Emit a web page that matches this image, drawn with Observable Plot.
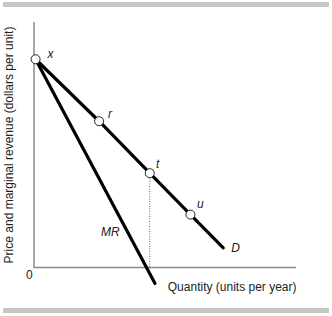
<!DOCTYPE html>
<html><head><meta charset="utf-8">
<script src="https://cdn.jsdelivr.net/npm/d3@7"></script>
<script src="https://cdn.jsdelivr.net/npm/@observablehq/plot@0.6"></script>
<style>
body{margin:0;background:#fff;}
#wrap{position:relative;width:332px;height:316px;overflow:hidden;}
.bar{position:absolute;left:3px;width:326px;height:5px;background:#c6c6c6;}
#wrap svg{position:absolute;left:0;top:0;}
</style></head><body>
<div id="wrap"><div class="bar" style="top:2px"></div><div class="bar" style="top:308px"></div></div>
<script>
// Demand curve points (quantity, price)
const pointNames = ["x", "r", "t", "u"];
const pointQ = [0.06, 2.48, 4.41, 5.96];
const pointP = [8.5, 5.97, 3.85, 2.16];
const demandEndQ = 7.21;
const demandEndP = 0.80;
// Marginal revenue line
const mrQ = [0.06, 4.61];
const mrP = [8.5, -0.65];
// Curve labels
const curveLabels = ["D", "MR"];
const curveLabelQ = [7.68, 2.91];
const curveLabelP = [0.80, 1.43];
const axisTitleY = "Price and marginal revenue (dollars per unit)";
const axisTitleX = "Quantity (units per year)";
const originLabel = "0";

const points = pointNames.map((n, i) => ({name: n, q: pointQ[i], p: pointP[i]}));
const demand = [...points.map(d => ({q: d.q, p: d.p})), {q: demandEndQ, p: demandEndP}];
const mr = mrQ.map((q, i) => ({q, p: mrP[i]}));
const labels = curveLabels.map((l, i) => ({label: l, q: curveLabelQ[i], p: curveLabelP[i]}));
const tPoint = points.find(d => d.name === "t");

const offsets = {x: [15, -5], r: [11, -7], t: [8, -9], u: [10, -10]};

const chart = Plot.plot({
  width: 332, height: 316,
  marginLeft: 33.5, marginRight: 36, marginTop: 22, marginBottom: 49,
  x: {domain: [0, 10], axis: null},
  y: {domain: [0, 10], axis: null},
  style: {fontFamily: "'Liberation Sans', Arial, sans-serif", fontSize: "12px", background: "transparent", overflow: "visible"},
  marks: [
    Plot.ruleX([0], {y1: 0, y2: 10, stroke: "#8a8a8a", strokeWidth: 1.5}),
    Plot.ruleY([0], {x1: 0, x2: 10, stroke: "#8a8a8a", strokeWidth: 1.5}),
    Plot.ruleX([tPoint], {x: "q", y1: 0, y2: "p", stroke: "#666", strokeWidth: 1, strokeDasharray: "1,1.5"}),
    Plot.line(demand, {x: "q", y: "p", stroke: "black", strokeWidth: 3.2}),
    Plot.line(mr, {x: "q", y: "p", stroke: "black", strokeWidth: 3.2}),
    Plot.dot(points, {x: "q", y: "p", r: 4.5, fill: "white", stroke: "#222", strokeWidth: 1}),
    ...points.map(d => Plot.text([d], {x: "q", y: "p", text: "name", dx: offsets[d.name][0], dy: offsets[d.name][1], fontStyle: "italic", fontSize: 12, fill: "#222"})),
    Plot.text(labels, {x: "q", y: "p", text: "label", fontStyle: "italic", fontSize: 12, fill: "#222"}),
    Plot.text([axisTitleY], {frameAnchor: "left", textAnchor: "middle", rotate: -90, dx: -25, fontSize: 12, fill: "#222"}),
    Plot.text([axisTitleX], {frameAnchor: "bottom-right", textAnchor: "end", dy: 23, fontSize: 12, fill: "#222"}),
    Plot.text([originLabel], {frameAnchor: "bottom-left", dx: -8, dy: 11, fontSize: 12, fill: "#222"})
  ]
});
document.getElementById("wrap").appendChild(chart);
</script>
</body></html>
